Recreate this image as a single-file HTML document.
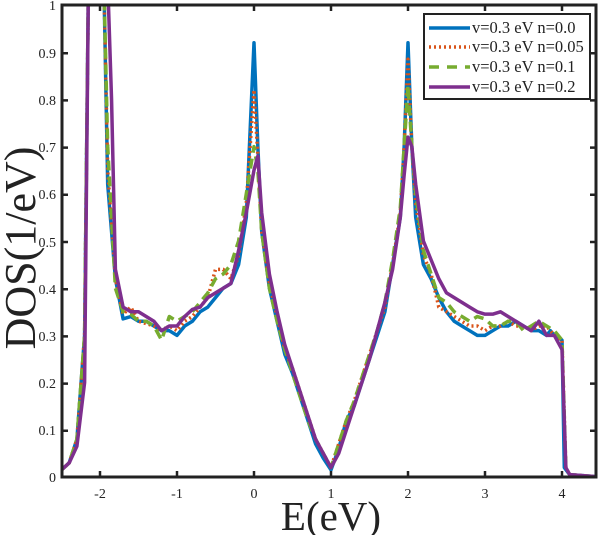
<!DOCTYPE html>
<html><head><meta charset="utf-8"><style>
body{margin:0;background:#fff}
svg{display:block;font-family:"Liberation Serif",serif}
</style></head><body>
<svg width="602" height="535" viewBox="0 0 602 535" xmlns="http://www.w3.org/2000/svg">
<defs><clipPath id="c"><rect x="62" y="5" width="534" height="472"/></clipPath></defs>
<g clip-path="url(#c)">
<g transform="translate(254,477) scale(77,-472)" fill="none" stroke-linejoin="round">
<polyline vector-effect="non-scaling-stroke" stroke="#0072bd" stroke-width="3.5" points="-2.5,.015 -2.4,.03 -2.3,.08 -2.2,.3 -2.15,1.05 -1.95,1.05 -1.9,.62 -1.8,.42 -1.7,.335 -1.6,.34 -1.5,.33 -1.4,.33 -1.3,.32 -1.2,.31 -1.1,.31 -1,.3 -.9,.32 -.8,.33 -.7,.35 -.6,.36 -.5,.38 -.4,.4 -.3,.41 -.2,.45 -.1,.55 0,.92 .05,.7 .1,.52 .2,.4 .3,.33 .4,.26 .5,.22 .6,.17 .7,.12 .8,.07 .9,.04 1,.015 1.1,.06 1.2,.12 1.3,.15 1.4,.2 1.5,.25 1.6,.3 1.7,.35 1.8,.45 1.9,.55 1.95,.7 2,.92 2.05,.7 2.1,.55 2.2,.45 2.3,.42 2.4,.38 2.5,.35 2.6,.33 2.7,.32 2.8,.31 2.9,.3 3,.3 3.1,.31 3.2,.32 3.3,.32 3.4,.33 3.5,.32 3.6,.31 3.7,.31 3.8,.3 3.85,.31 3.9,.3 4,.29 4.03,.02 4.1,.005 4.5,0"/>
<polyline vector-effect="non-scaling-stroke" stroke="#d95319" stroke-width="3.5" stroke-dasharray="2,3" points="-2.5,.015 -2.4,.03 -2.3,.08 -2.2,.3 -2.15,1.05 -1.95,1.05 -1.9,.65 -1.8,.42 -1.7,.345 -1.6,.36 -1.5,.33 -1.4,.325 -1.3,.32 -1.2,.31 -1.1,.32 -1,.31 -.9,.33 -.8,.34 -.7,.36 -.6,.38 -.5,.44 -.4,.44 -.3,.42 -.2,.47 -.1,.58 0,.82 .05,.68 .1,.52 .2,.41 .3,.34 .4,.27 .5,.23 .6,.18 .7,.13 .8,.08 .9,.05 1,.02 1.1,.07 1.2,.12 1.3,.16 1.4,.21 1.5,.26 1.6,.31 1.7,.36 1.8,.45 1.9,.56 1.95,.7 2,.885 2.05,.7 2.1,.58 2.2,.47 2.3,.43 2.4,.36 2.5,.35 2.6,.34 2.7,.33 2.8,.32 2.9,.32 3,.31 3.1,.32 3.2,.32 3.3,.33 3.4,.32 3.5,.32 3.6,.31 3.7,.32 3.8,.32 3.9,.3 4,.29 4.05,.02 4.1,.005 4.5,0"/>
<polyline vector-effect="non-scaling-stroke" stroke="#77ac30" stroke-width="3.5" stroke-dasharray="10,6" points="-2.5,.015 -2.4,.03 -2.3,.08 -2.2,.3 -2.15,1.05 -1.95,1.05 -1.9,.7 -1.8,.4 -1.7,.35 -1.6,.345 -1.5,.33 -1.4,.33 -1.3,.32 -1.2,.29 -1.1,.34 -1,.33 -.9,.34 -.8,.35 -.7,.37 -.6,.39 -.5,.42 -.4,.43 -.3,.45 -.2,.5 -.1,.6 0,.7 .05,.65 .1,.52 .2,.4 .3,.33 .4,.27 .5,.22 .6,.17 .7,.12 .8,.08 .9,.05 1,.02 1.1,.07 1.2,.12 1.3,.16 1.4,.21 1.5,.26 1.6,.31 1.7,.37 1.8,.46 1.9,.57 1.95,.7 2,.83 2.05,.7 2.1,.6 2.2,.48 2.3,.43 2.4,.38 2.5,.37 2.6,.35 2.7,.34 2.8,.33 2.9,.34 3,.335 3.1,.32 3.2,.32 3.3,.33 3.4,.33 3.5,.31 3.6,.32 3.7,.33 3.8,.32 3.9,.31 4,.29 4.05,.02 4.1,.005 4.5,0"/>
<polyline vector-effect="non-scaling-stroke" stroke="#7e2f8e" stroke-width="3.5" points="-2.5,.015 -2.4,.03 -2.3,.065 -2.2,.2 -2.15,1.05 -1.9,1.05 -1.85,.8 -1.8,.44 -1.7,.36 -1.6,.35 -1.5,.35 -1.4,.34 -1.3,.33 -1.2,.31 -1.1,.32 -1,.32 -.9,.34 -.8,.355 -.7,.36 -.6,.38 -.5,.39 -.4,.4 -.3,.41 -.2,.48 -.1,.56 0,.65 .05,.68 .1,.56 .2,.43 .3,.35 .4,.28 .5,.23 .6,.18 .7,.13 .8,.08 .9,.05 1,.02 1.1,.05 1.2,.1 1.3,.15 1.4,.2 1.5,.25 1.6,.31 1.7,.37 1.8,.44 1.9,.55 1.95,.64 2,.72 2.05,.7 2.1,.62 2.2,.5 2.3,.46 2.4,.42 2.5,.39 2.6,.38 2.7,.37 2.8,.36 2.9,.35 3,.345 3.1,.345 3.2,.35 3.3,.34 3.4,.33 3.5,.32 3.6,.31 3.7,.33 3.8,.3 3.9,.3 4,.27 4.05,.02 4.1,.005 4.5,0"/>
</g></g>
<g stroke="#222" stroke-width="3" fill="none">
<rect x="62" y="5" width="534" height="472"/>
</g>
<g stroke="#222" stroke-width="2.5">
<path d="M100,477v-6M177,477v-6M254,477v-6M331,477v-6M408,477v-6M485,477v-6M562,477v-6M100,5v6M177,5v6M254,5v6M331,5v6M408,5v6M485,5v6M562,5v6"/>
<path d="M62,430.8h6M62,383.6h6M62,336.4h6M62,289.2h6M62,242h6M62,194.8h6M62,147.6h6M62,100.4h6M62,53.2h6M596,430.8h-6M596,383.6h-6M596,336.4h-6M596,289.2h-6M596,242h-6M596,194.8h-6M596,147.6h-6M596,100.4h-6M596,53.2h-6"/>
</g>
<g font-size="14" fill="#222" text-anchor="middle">
<text x="100" y="498">-2</text><text x="177" y="498">-1</text><text x="254" y="498">0</text><text x="331" y="498">1</text><text x="408" y="498">2</text><text x="485" y="498">3</text><text x="562" y="498">4</text>
</g>
<g font-size="14" fill="#222" text-anchor="end">
<text x="56" y="482">0</text><text x="56" y="435">0.1</text><text x="56" y="388">0.2</text><text x="56" y="341">0.3</text><text x="56" y="294">0.4</text><text x="56" y="247">0.5</text><text x="56" y="199">0.6</text><text x="56" y="152">0.7</text><text x="56" y="105">0.8</text><text x="56" y="58">0.9</text><text x="56" y="10">1</text>
</g>
<text x="331" y="530" font-size="41" text-anchor="middle" fill="#222">E(eV)</text>
<text transform="translate(35,248) rotate(-90)" font-size="44" text-anchor="middle" fill="#222">DOS(1/eV)</text>
<rect x="424" y="14" width="166" height="85" fill="#fff" stroke="#222" stroke-width="2"/>
<g stroke-width="3.5">
<line x1="429" y1="28" x2="470" y2="28" stroke="#0072bd"/>
<line x1="429" y1="47" x2="470" y2="47" stroke="#d95319" stroke-dasharray="2,3"/>
<line x1="429" y1="67" x2="470" y2="67" stroke="#77ac30" stroke-dasharray="10,8"/>
<line x1="429" y1="87" x2="470" y2="87" stroke="#7e2f8e"/>
</g>
<g font-size="16.5" fill="#222">
<text x="472" y="33">v=0.3 eV n=0.0</text>
<text x="472" y="52">v=0.3 eV n=0.05</text>
<text x="472" y="72">v=0.3 eV n=0.1</text>
<text x="472" y="92">v=0.3 eV n=0.2</text>
</g>
</svg>
</body></html>
